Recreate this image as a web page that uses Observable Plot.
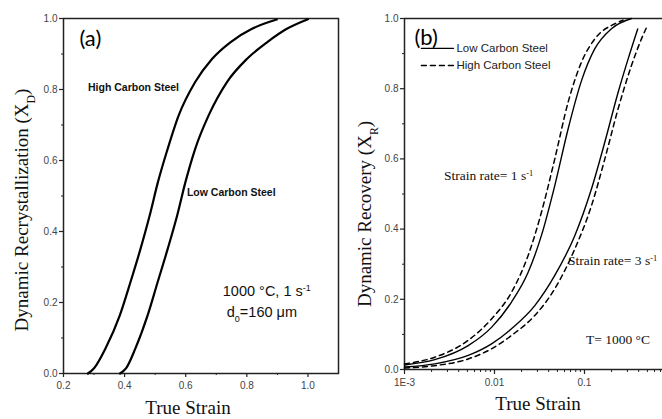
<!DOCTYPE html>
<html><head><meta charset="utf-8">
<script src="https://cdn.jsdelivr.net/npm/d3@7"></script>
<script src="https://cdn.jsdelivr.net/npm/@observablehq/plot@0.6"></script>
<style>
body{margin:0;background:#fff;overflow:hidden}
#wrap{position:relative;width:662px;height:419px;background:#fff}
#wrap svg{position:absolute;top:0}
</style>
</head><body><div id="wrap"></div>
<script>
// ---------- tick values ----------
const yMajor = [0, 0.2, 0.4, 0.6, 0.8, 1.0];
const yMinor = [0.1, 0.3, 0.5, 0.7, 0.9];
const aXMajor = [0.2, 0.4, 0.6, 0.8, 1.0];
const aXMinor = [0.3, 0.5, 0.7, 0.9];
const bXMajor = [0.001, 0.01, 0.1];
const bXMajorLabels = ["1E-3", "0.01", "0.1"];
const bXMinor = [0.002,0.003,0.004,0.005,0.006,0.007,0.008,0.009,0.02,0.03,0.04,0.05,0.06,0.07,0.08,0.09,0.2,0.3,0.4,0.5,0.6,0.7];

// ---------- panel (a) data ----------
const aHighStrain = [0.28, 0.30, 0.337, 0.384, 0.419, 0.452, 0.482, 0.509, 0.541, 0.577, 0.631, 0.686, 0.746, 0.817, 0.898];
const aHighX      = [0, 0.015, 0.07, 0.163, 0.257, 0.351, 0.445, 0.539, 0.633, 0.727, 0.821, 0.886, 0.933, 0.971, 0.997];
const aLowStrain  = [0.385, 0.405, 0.435, 0.475, 0.508, 0.541, 0.572, 0.599, 0.631, 0.675, 0.735, 0.80, 0.866, 0.931, 1.0];
const aLowX       = [0, 0.015, 0.07, 0.163, 0.257, 0.351, 0.445, 0.539, 0.633, 0.727, 0.821, 0.886, 0.933, 0.971, 0.998];

// ---------- panel (b) data ----------
const bHC1Strain = [0.001, 0.00217, 0.0051, 0.00927, 0.01545, 0.02366, 0.03325, 0.04677, 0.06586, 0.0927, 0.1303, 0.2174, 0.269];
const bHC1       = [0.016, 0.035, 0.083, 0.144, 0.22, 0.325, 0.448, 0.60, 0.762, 0.876, 0.942, 0.985, 0.995];
const bLC1Strain = [0.001, 0.00217, 0.0051, 0.00927, 0.01545, 0.02366, 0.03325, 0.04677, 0.06586, 0.0927, 0.1303, 0.1995, 0.333];
const bLC1       = [0.013, 0.028, 0.068, 0.12, 0.192, 0.277, 0.382, 0.524, 0.686, 0.823, 0.914, 0.971, 1.0];
const bLC3Strain = [0.001, 0.00217, 0.0051, 0.00927, 0.01545, 0.02805, 0.04677, 0.0782, 0.1197, 0.1683, 0.2366, 0.3056, 0.39];
const bLC3       = [0.007, 0.016, 0.04, 0.073, 0.116, 0.182, 0.268, 0.382, 0.515, 0.648, 0.79, 0.885, 0.97];
const bHC3Strain = [0.001, 0.00217, 0.0051, 0.00927, 0.01545, 0.02805, 0.04677, 0.0782, 0.1197, 0.1683, 0.2366, 0.3327, 0.4296, 0.49];
const bHC3       = [0.004, 0.011, 0.03, 0.059, 0.097, 0.154, 0.23, 0.344, 0.467, 0.60, 0.743, 0.866, 0.942, 0.975];

// legend keys (data coords)
const legendKeyStrain = [0.00154, 0.0035];
const legendSolidY = 0.915, legendDashY = 0.866;
const legendLabels = ["Low Carbon Steel", "High Carbon Steel"];

const zip = (xs, ys) => xs.map((x, i) => ({x, y: ys[i]}));
const SANS = "Liberation Sans, Arial, sans-serif";
const SERIF = "Liberation Serif, Times New Roman, serif";
const AXIS = "#222";
const bLabelOf = new Map(bXMajor.map((v, i) => [v, bXMajorLabels[i]]));

function rich(svg, x, y, parts, o) {
  const size = o.size;
  const t = d3.select(svg).append("text")
    .attr("font-family", o.family).attr("font-size", size)
    .attr("font-weight", o.weight || "normal")
    .attr("text-anchor", o.anchor || "start")
    .attr("fill", o.fill || "#111");
  if (o.rotate) t.attr("transform", `translate(${x},${y}) rotate(${o.rotate})`);
  else t.attr("x", x).attr("y", y);
  for (const [s, kind] of parts) {
    const ts = t.append("tspan").text(s);
    if (kind === "sup") ts.attr("baseline-shift", "super").attr("font-size", size * 0.62);
    if (kind === "sub") ts.attr("baseline-shift", "sub").attr("font-size", size * 0.62);
  }
}

const wrap = document.getElementById("wrap");

// ================= Panel (a) =================
const pa = Plot.plot({
  width: 345, height: 419,
  marginLeft: 63, marginRight: 7, marginTop: 18, marginBottom: 46,
  x: {domain: [0.2, 1.1]},
  y: {domain: [0, 1]},
  style: {fontFamily: SANS, fontSize: "10px", background: "transparent", overflow: "visible"},
  marks: [
    Plot.axisY({ticks: yMajor, tickSize: 4, tickPadding: 2, tickFormat: ".1f", label: null, stroke: AXIS, fill: "#444", strokeWidth: 1.2}),
    Plot.axisY({ticks: yMinor, tickSize: 2, tickFormat: () => "", label: null, stroke: AXIS}),
    Plot.axisX({ticks: aXMajor, tickSize: 4, tickPadding: 4, tickFormat: ".1f", label: null, stroke: AXIS, fill: "#444", strokeWidth: 1.2}),
    Plot.axisX({ticks: aXMinor, tickSize: 2, tickFormat: () => "", label: null, stroke: AXIS}),
    Plot.frame({stroke: AXIS, strokeWidth: 1.5}),
    Plot.line(zip(aHighStrain, aHighX), {x: "x", y: "y", curve: "monotone-x", stroke: "#000", strokeWidth: 2.2}),
    Plot.line(zip(aLowStrain, aLowX), {x: "x", y: "y", curve: "monotone-x", stroke: "#000", strokeWidth: 2.2}),
    Plot.text(["(a)"], {x: 0.252, y: 0.938, text: d => d, textAnchor: "start", lineAnchor: "bottom", fontSize: 22, fontFamily: "Lato, Carlito, sans-serif", fill: "#000", dy: 5}),
    Plot.text(["High Carbon Steel"], {x: 0.429, y: 0.806, text: d => d, fontSize: 10.5, fontWeight: "bold", fill: "#111"}),
    Plot.text(["Low Carbon Steel"], {x: 0.749, y: 0.51, text: d => d, fontSize: 10.5, fontWeight: "bold", fill: "#111"})
  ]
});
wrap.appendChild(pa);
pa.style.left = "0px";
{
  const sx = pa.scale("x"), sy = pa.scale("y");
  rich(pa, sx.apply(0.723), sy.apply(0.217), [["1000 °C, 1 s"], ["-1", "sup"]], {size: 14.5, family: SANS});
  rich(pa, sx.apply(0.736), sy.apply(0.158), [["d"], ["0", "sub"], ["=160 μm"]], {size: 14.5, family: SANS});
  rich(pa, 28, 210, [["Dynamic Recrystallization (X"], ["D", "sub"], [")"]], {size: 19, family: SERIF, anchor: "middle", rotate: -90});
  rich(pa, 188, 414, [["True Strain"]], {size: 19, family: SERIF, anchor: "middle"});
}

// ================= Panel (b) =================
const pb = Plot.plot({
  width: 322, height: 419,
  marginLeft: 64, marginRight: 0, marginTop: 18, marginBottom: 50,
  x: {type: "log", domain: [0.001, 0.736]},
  y: {domain: [0, 1]},
  style: {fontFamily: SANS, fontSize: "10px", background: "transparent", overflow: "visible"},
  marks: [
    Plot.axisY({ticks: yMajor, tickSize: 4, tickPadding: 2, tickFormat: ".1f", label: null, stroke: AXIS, fill: "#444", strokeWidth: 1.2}),
    Plot.axisY({ticks: yMinor, tickSize: 2, tickFormat: () => "", label: null, stroke: AXIS}),
    Plot.axisX({ticks: bXMajor, tickSize: 5, tickPadding: 4, tickFormat: d => bLabelOf.get(d) ?? "", label: null, stroke: AXIS, fill: "#444", strokeWidth: 1.2}),
    Plot.axisX({ticks: bXMinor, tickSize: 3, tickFormat: () => "", label: null, stroke: AXIS}),
    Plot.ruleY([0, 1], {stroke: AXIS, strokeWidth: 1.5}),
    Plot.ruleX([0.001], {stroke: AXIS, strokeWidth: 1.5}),
    Plot.line(zip(bHC1Strain, bHC1), {x: "x", y: "y", curve: "monotone-x", stroke: "#000", strokeWidth: 1.5, strokeDasharray: "5,4"}),
    Plot.line(zip(bLC1Strain, bLC1), {x: "x", y: "y", curve: "monotone-x", stroke: "#000", strokeWidth: 1.4}),
    Plot.line(zip(bLC3Strain, bLC3), {x: "x", y: "y", curve: "monotone-x", stroke: "#000", strokeWidth: 1.4}),
    Plot.line(zip(bHC3Strain, bHC3), {x: "x", y: "y", curve: "monotone-x", stroke: "#000", strokeWidth: 1.5, strokeDasharray: "5,4"}),
    Plot.line(legendKeyStrain.map(x => ({x, y: legendSolidY})), {x: "x", y: "y", stroke: "#000", strokeWidth: 1.4}),
    Plot.line(legendKeyStrain.map(x => ({x, y: legendDashY})), {x: "x", y: "y", stroke: "#000", strokeWidth: 1.5, strokeDasharray: "5,4"}),
    Plot.text(legendLabels, {x: 0.00378, y: (d, i) => [legendSolidY, legendDashY][i], text: d => d, textAnchor: "start", fontSize: 11.5, fill: "#222"}),
    Plot.text(["(b)"], {x: 0.00129, y: 0.94, text: d => d, textAnchor: "start", lineAnchor: "bottom", fontSize: 22, fontFamily: "Lato, Carlito, sans-serif", fill: "#000", dy: 5})
  ]
});
wrap.appendChild(pb);
pb.style.left = "340px";
{
  const sx = pb.scale("x"), sy = pb.scale("y");
  rich(pb, sx.apply(0.00278), sy.apply(0.538), [["Strain rate= 1 s"], ["-1", "sup"]], {size: 13.5, family: SERIF});
  rich(pb, sx.apply(0.0664), sy.apply(0.296), [["Strain rate= 3 s"], ["-1", "sup"]], {size: 13.5, family: SERIF});
  rich(pb, sx.apply(0.105), sy.apply(0.071), [["T= 1000 °C"]], {size: 13.5, family: SERIF});
  rich(pb, 31, 214, [["Dynamic Recovery (X"], ["R", "sub"], [")"]], {size: 19, family: SERIF, anchor: "middle", rotate: -90});
  rich(pb, 198, 410, [["True Strain"]], {size: 19, family: SERIF, anchor: "middle"});
}
</script>
</body></html>
